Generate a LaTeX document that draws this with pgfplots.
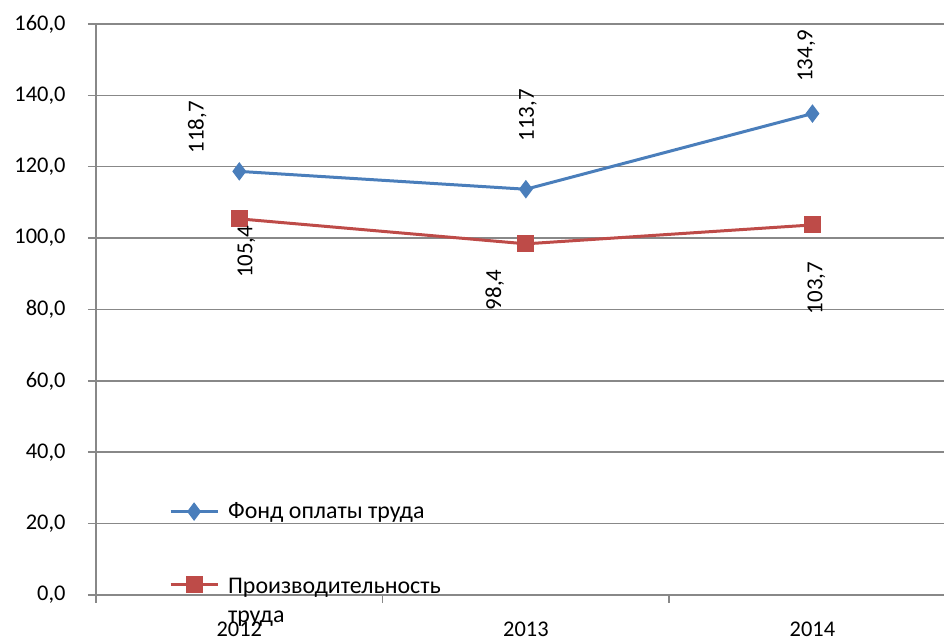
\documentclass[border=0pt]{standalone}
\usepackage{pgfplots}
\pgfplotsset{compat=1.18}
\usepackage{fontspec}
\setmainfont{Carlito}

\definecolor{fotblue}{HTML}{4A7EBB}
\definecolor{prodred}{HTML}{BE4B48}
\definecolor{gridgray}{HTML}{888888}

% label offsets (dx, dy in bp) are stored next to each value
\pgfplotstableread{
x  y      dx   dy
0  118.7  -42  44
1  113.7    2  74
2  134.9   -6  58
}\fot
\pgfplotstableread{
x  y      dx   dy
0  105.4    7  -33
1  98.4   -31  -46
2  103.7    4  -63
}\prod

\begin{document}
\begin{tikzpicture}
\path[use as bounding box] (0,0) rectangle (944bp,643bp);
\begin{axis}[
  at={(96bp,48bp)}, anchor=south west,
  scale only axis, width=848bp, height=571bp,
  xmin=-0.5, xmax=2.459, ymin=0, ymax=160,
  axis lines=left,
  axis line style={-, gridgray, line width=1.5bp},
  ytick={0,20,...,160},
  ymajorgrids,
  major grid style={gridgray, line width=1.5bp},
  xtick={-0.5,0.5,1.5}, xticklabels={},
  extra x ticks={0,1,2},
  extra x tick labels={2012,2013,2014},
  extra x tick style={major tick length=0pt, xticklabel style={yshift=-23bp}},
  tick align=outside,
  major tick length=8bp,
  tick style={gridgray, line width=1.5bp},
  /pgf/number format/assume math mode=true,
  tick label style={font=\fontsize{22.5}{27}\selectfont, text=black},
  yticklabel style={xshift=-19bp, /pgf/number format/.cd, use comma, fixed, fixed zerofill, precision=1},
  clip=false,
  legend style={at={(axis cs:-0.256,27)}, anchor=north west, draw=none, fill=none,
    font=\fontsize{24}{29}\selectfont, row sep=49bp, column sep=7bp},
  legend cell align=left,
  legend image code/.code={\draw[mark repeat=2, mark phase=2, #1] plot coordinates {(0bp,0bp) (23.5bp,0bp) (47bp,0bp)};},
  nodes near coords,
  point meta=y,
  visualization depends on={\thisrow{dx} \as \dx},
  visualization depends on={\thisrow{dy} \as \dy},
  every node near coord/.append style={xshift=\dx*1bp, yshift=\dy*1bp, rotate=90, anchor=center,
    font=\fontsize{23}{27}\selectfont, text=black,
    /pgf/number format/.cd, use comma, fixed, fixed zerofill, precision=1},
]
\addplot[fotblue, line width=3bp, mark=diamond*, mark size=8.5bp,
  mark options={fill=fotblue, draw=fotblue, line width=1bp}] table[x=x, y=y] {\fot};
\addlegendentry{Фонд оплаты труда}
\addplot[prodred, line width=3bp, mark=square*, mark size=8bp,
  mark options={fill=prodred, draw=prodred, line width=1bp}] table[x=x, y=y] {\prod};
\addlegendentry{\begin{tabular}[t]{@{}l@{}}Производительность\\труда\end{tabular}}
\end{axis}
\end{tikzpicture}
\end{document}
